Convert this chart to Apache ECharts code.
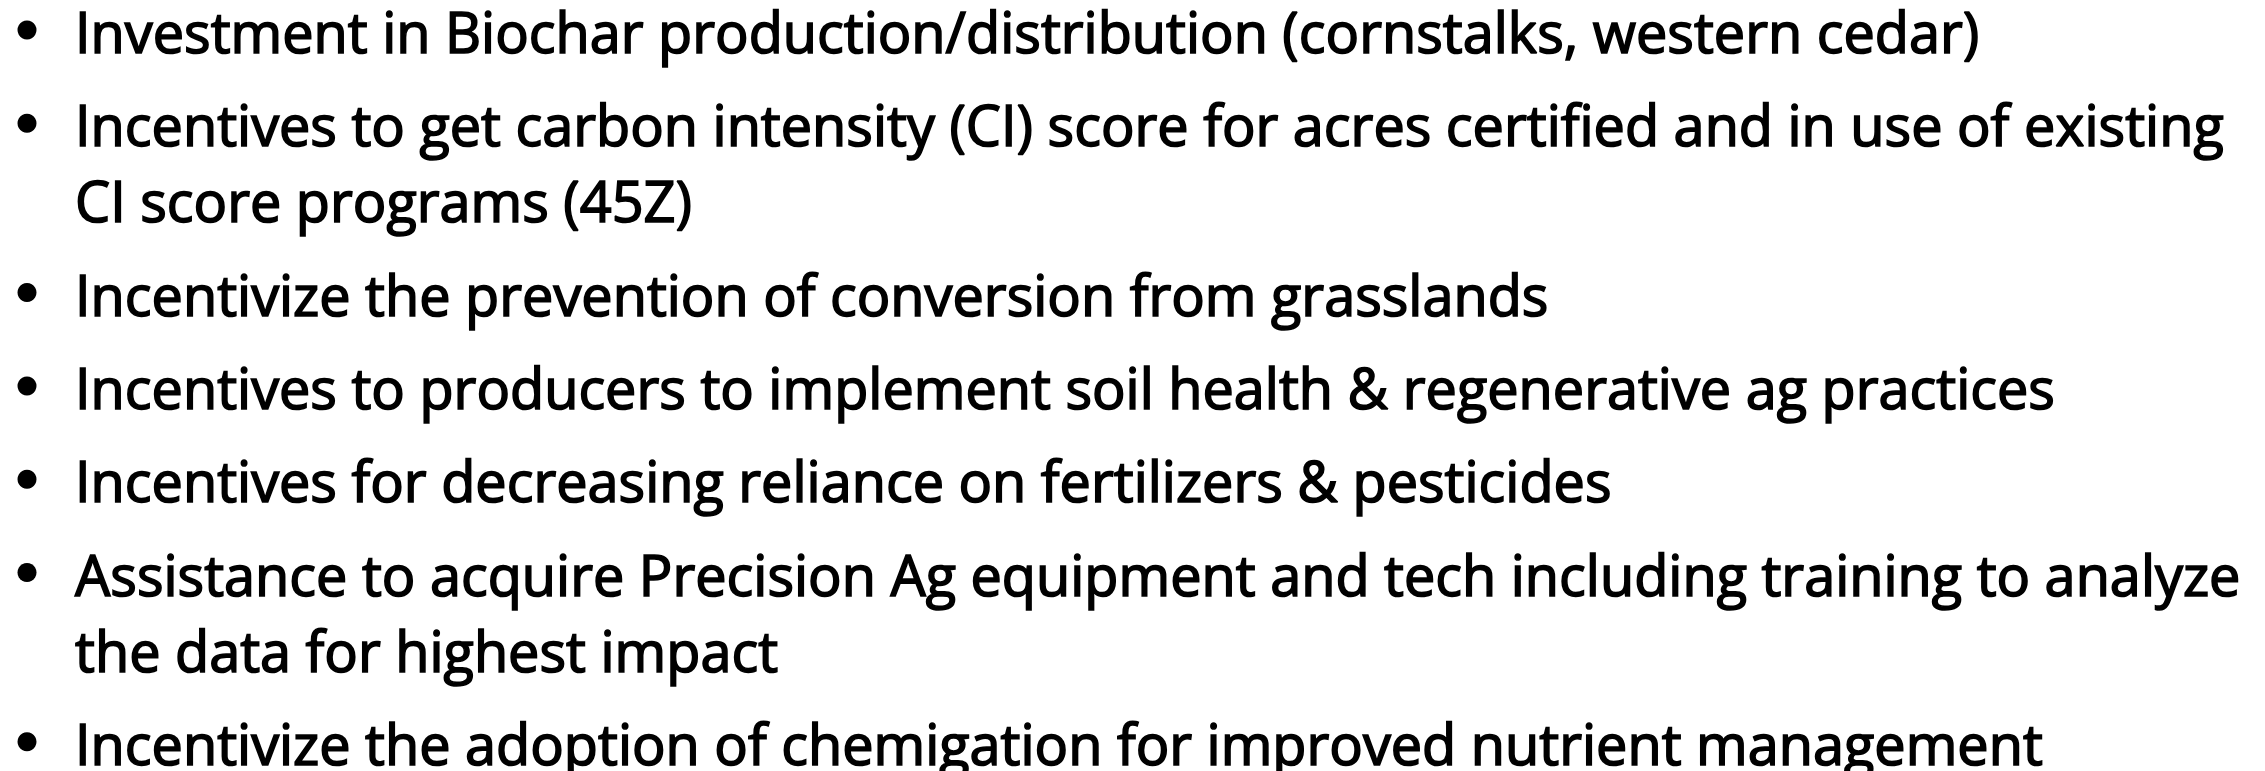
<!DOCTYPE html>
<html>
<head>
<meta charset="utf-8">
<script src="https://cdn.jsdelivr.net/npm/echarts@6/dist/echarts.min.js"></script>
<style>
html,body{margin:0;padding:0;background:#ffffff;}
#chart{width:2265px;height:771px;}
</style>
</head>
<body>
<div id="chart"></div>
<script>
// Bullet items (each item lists its displayed lines)
const item1 = ["Investment in Biochar production/distribution (cornstalks, western cedar)"];
const item2 = ["Incentives to get carbon intensity (CI) score for acres certified and in use of existing", "CI score programs (45Z)"];
const item3 = ["Incentivize the prevention of conversion from grasslands"];
const item4 = ["Incentives to producers to implement soil health & regenerative ag practices"];
const item5 = ["Incentives for decreasing reliance on fertilizers & pesticides"];
const item6 = ["Assistance to acquire Precision Ag equipment and tech including training to analyze", "the data for highest impact"];
const item7 = ["Incentivize the adoption of chemigation for improved nutrient management"];
const items = [item1, item2, item3, item4, item5, item6, item7];

// Layout / style
const FONT_FAMILY = "'Open Sans', 'Noto Sans', sans-serif";
const FONT_SIZE = 56;
const TEXT_X = 75;
const BULLET_X = 27;
const BULLET_R = 9.5;
const FIRST_BASELINE = 52;
const PARA_STEP = 93.3;
const WRAP_STEP = 76;
const BASELINE_TO_MIDDLE = 21;
const BULLET_RISE = 22;
const TARGET_WIDTH = 2165;

function measure(text) {
  const ctx = document.createElement('canvas').getContext('2d');
  ctx.font = FONT_SIZE + 'px ' + FONT_FAMILY;
  return ctx.measureText(text).width;
}
let longest = 0;
items.forEach(lines => lines.forEach(l => { longest = Math.max(longest, measure(l)); }));
const SCALE_X = TARGET_WIDTH / longest;

const elements = [];
let baseline = FIRST_BASELINE;
items.forEach((lines, i) => {
  if (i > 0) baseline += PARA_STEP;
  elements.push({
    type: 'circle',
    shape: { cx: BULLET_X, cy: baseline - BULLET_RISE, r: BULLET_R },
    style: { fill: '#000000' }
  });
  lines.forEach((line, j) => {
    if (j > 0) baseline += WRAP_STEP;
    elements.push({
      type: 'text',
      x: TEXT_X,
      y: baseline - BASELINE_TO_MIDDLE,
      scaleX: SCALE_X,
      style: {
        text: line,
        fill: '#000000',
        stroke: '#000000',
        lineWidth: 1.6,
        fontSize: FONT_SIZE,
        fontFamily: FONT_FAMILY,
        align: 'left',
        verticalAlign: 'middle'
      }
    });
  });
});

const chart = echarts.init(document.getElementById('chart'), null, { renderer: 'svg', width: 2265, height: 771 });
chart.setOption({
  backgroundColor: '#ffffff',
  animation: false,
  graphic: { elements: elements }
});
</script>
</body>
</html>
